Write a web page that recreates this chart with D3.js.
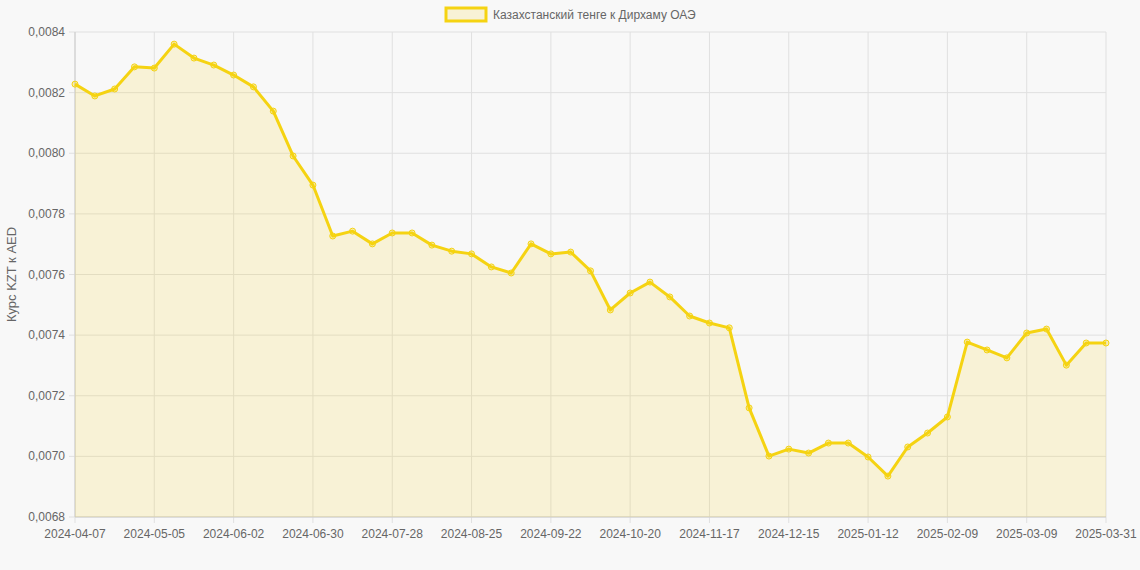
<!DOCTYPE html>
<html><head><meta charset="utf-8">
<script src="https://cdn.jsdelivr.net/npm/d3@7"></script>
<style>body{margin:0;background:#f8f8f8;font-family:"Liberation Sans",Arial,sans-serif}</style>
</head><body><svg id="c" width="1140" height="570"></svg>
<script>
const labels = (() => { const a=[]; const d=new Date(Date.UTC(2024,3,7)); for(let i=0;i<52;i++){a.push(new Date(d.getTime()+i*7*864e5).toISOString().slice(0,10));} a.push("2025-03-31"); return a; })();
const values = [0.008228,0.008189,0.008212,0.008285,0.008281,0.008360,0.008314,0.008291,0.008258,0.008219,
0.008139,0.007991,0.007895,0.007727,0.007743,0.007701,0.007737,0.007737,0.007697,0.007677,
0.007668,0.007625,0.007605,0.007701,0.007668,0.007674,0.007612,0.007483,0.007539,0.007575,
0.007526,0.007463,0.007440,0.007424,0.007160,0.007001,0.007024,0.007011,0.007044,0.007044,
0.006998,0.006935,0.007031,0.007077,0.007130,0.007377,0.007351,0.007325,0.007407,0.007420,
0.007301,0.007374,0.007374];
const yTicks = [0.0068,0.0070,0.0072,0.0074,0.0076,0.0078,0.0080,0.0082,0.0084];
const seriesName = "Казахстанский тенге к Дирхаму ОАЭ";
const color = "#f5d312";
const svg = d3.select("#c");
const L=75,R=1106,T=32,B=517;
const x = d3.scalePoint().domain(labels).range([L,R]);
const y = d3.scaleLinear().domain([0.0068,0.0084]).range([B,T]);
const fmt = v => v.toFixed(4).replace(".",",");
const tickIdx = labels.map((d,i)=>i).filter(i=>i%4===0 || i===labels.length-1);
svg.append("g").selectAll("line").data(yTicks).join("line")
 .attr("x1",L-6).attr("x2",R).attr("y1",d=>y(d)).attr("y2",d=>y(d)).attr("stroke","#e0e0e0");
svg.append("g").selectAll("line").data(tickIdx).join("line")
 .attr("x1",i=>x(labels[i])).attr("x2",i=>x(labels[i])).attr("y1",T).attr("y2",B+6).attr("stroke","#e0e0e0");
svg.append("line").attr("x1",L).attr("x2",L).attr("y1",T).attr("y2",B).attr("stroke","#ccc");
svg.append("line").attr("x1",L).attr("x2",R).attr("y1",B).attr("y2",B).attr("stroke","#ccc");
svg.append("g").selectAll("text").data(yTicks).join("text")
 .attr("x",L-10).attr("y",d=>y(d)+4).attr("text-anchor","end").attr("font-size",12).attr("fill","#666").text(fmt);
svg.append("g").selectAll("text").data(tickIdx).join("text")
 .attr("x",i=>x(labels[i])).attr("y",B+21).attr("text-anchor","middle").attr("font-size",12).attr("fill","#666").text(i=>labels[i]);
svg.append("text").attr("transform",`translate(16,${(T+B)/2}) rotate(-90)`).attr("text-anchor","middle")
 .attr("font-size",13).attr("fill","#666").text("Курс KZT к AED");
svg.append("path").datum(values).attr("fill","rgba(245,211,18,0.15)")
 .attr("d",d3.area().x((d,i)=>x(labels[i])).y0(B).y1(d=>y(d)));
svg.append("path").datum(values).attr("fill","none").attr("stroke",color).attr("stroke-width",3).attr("stroke-linejoin","round")
 .attr("d",d3.line().x((d,i)=>x(labels[i])).y(d=>y(d)));
svg.append("g").selectAll("circle").data(values).join("circle")
 .attr("cx",(d,i)=>x(labels[i])).attr("cy",d=>y(d)).attr("r",3).attr("fill","rgba(245,211,18,0.3)").attr("stroke",color).attr("stroke-width",1);
const lg = svg.append("g");
const lx = 446;
lg.append("rect").attr("x",lx).attr("y",8).attr("width",40).attr("height",13).attr("fill","rgba(245,211,18,0.15)").attr("stroke",color).attr("stroke-width",3);
lg.append("text").attr("x",lx+47).attr("y",19).attr("font-size",12).attr("fill","#666").text(seriesName);
</script></body></html>
